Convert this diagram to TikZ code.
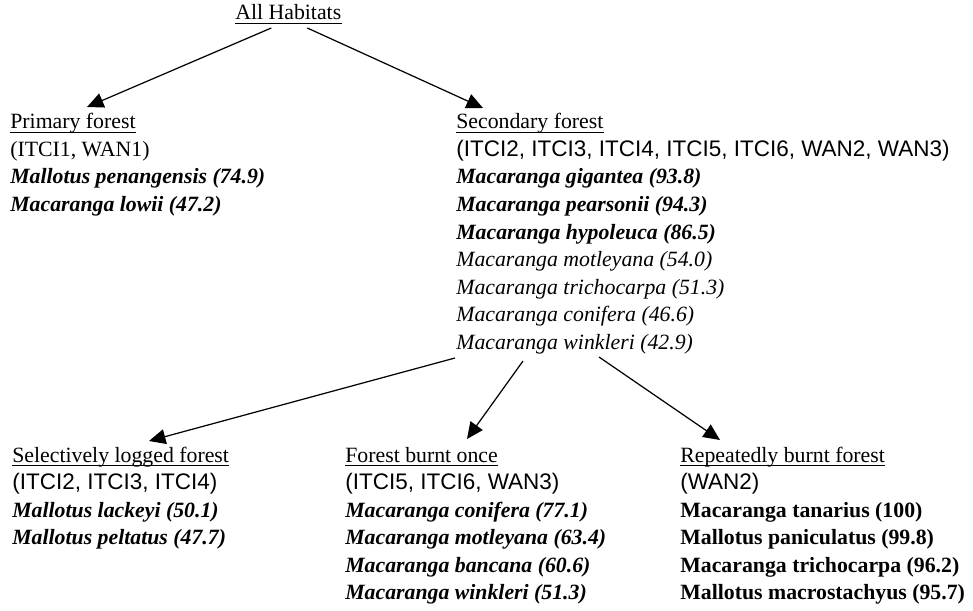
\documentclass[tikz,border=0pt]{standalone}
\usepackage{fontspec}
\setmainfont{Liberation Serif}
\setsansfont{Liberation Sans}
\usetikzlibrary{arrows.meta,calc}
\newcommand{\habsize}{\fontsize{12.4}{15}\selectfont}
\tikzstyle{txt} = [anchor=base west, inner sep=0pt, font=\habsize]
\tikzstyle{site} = [txt, font=\sffamily\fontsize{12.8}{15}\selectfont]
\tikzstyle{spb} = [txt, font=\habsize\bfseries\itshape]
\tikzstyle{spi} = [txt, font=\habsize\itshape]
\tikzstyle{spu} = [txt, font=\habsize\bfseries]
\tikzstyle{uline} = [line width=0.5pt]
\tikzstyle{branch} = [line width=0.7pt, -{Triangle[length=0.33cm,width=0.3cm]}]

\begin{document}
\begin{tikzpicture}[x=0.02cm,y=-0.02cm]
\useasboundingbox (0,0) rectangle (973,611);
% top
\draw (235,20) node (all) [txt] {All Habitats};
% primary forest
\draw (10,129) node (prim) [txt] {Primary forest};
\draw (10,156.5) node (prim1) [txt] {(ITCI1, WAN1)};
\draw (10,184) node (prim2) [spb] {Mallotus penangensis (74.9)};
\draw (10,211.5) node (prim3) [spb] {Macaranga lowii (47.2)};
% secondary forest
\draw (456,129) node (sec) [txt] {Secondary forest};
\draw (456,156.5) node (sec1) [site] {(ITCI2, ITCI3, ITCI4, ITCI5, ITCI6, WAN2, WAN3)};
\draw (456,184) node (sec2) [spb] {Macaranga gigantea (93.8)};
\draw (456,211.5) node (sec3) [spb] {Macaranga pearsonii (94.3)};
\draw (456,239) node (sec4) [spb] {Macaranga hypoleuca (86.5)};
\draw (456,266.5) node (sec5) [spi] {Macaranga motleyana (54.0)};
\draw (456,294) node (sec6) [spi] {Macaranga trichocarpa (51.3)};
\draw (456,321.5) node (sec7) [spi] {Macaranga conifera (46.6)};
\draw (456,349) node (secw) [spi] {Macaranga winkleri (42.9)};
% selectively logged
\draw (12,462) node (slf) [txt] {Selectively logged forest};
\draw (12,489.5) node (slf1) [site] {(ITCI2, ITCI3, ITCI4)};
\draw (12,517) node (slf2) [spb] {Mallotus lackeyi (50.1)};
\draw (12,544.5) node (slf3) [spb] {Mallotus peltatus (47.7)};
% burnt once
\draw (345,462) node (fbo) [txt] {Forest burnt once};
\draw (345,489.5) node (fbo1) [site] {(ITCI5, ITCI6, WAN3)};
\draw (345,517) node (fbo2) [spb] {Macaranga conifera (77.1)};
\draw (345,544.5) node (fbo3) [spb] {Macaranga motleyana (63.4)};
\draw (345,572) node (fbo4) [spb] {Macaranga bancana (60.6)};
\draw (345,599.5) node (fbo5) [spb] {Macaranga winkleri (51.3)};
% repeatedly burnt
\draw (680,462) node (rbf) [txt] {Repeatedly burnt forest};
\draw (680,489.5) node (rbf1) [site] {(WAN2)};
\draw (680,517) node (rbf2) [spu] {Macaranga tanarius (100)};
\draw (680,544.5) node (rbf3) [spu] {Mallotus paniculatus (99.8)};
\draw (680,572) node (rbf4) [spu] {Macaranga trichocarpa (96.2)};
\draw (680,599.5) node (rbf5) [spu] {Mallotus macrostachyus (95.7)};
% underlines
\draw[uline] ($(all.base west)+(0,3)$) -- ($(all.base east)+(0,3)$);
\draw[uline] ($(prim.base west)+(0,3)$) -- ($(prim.base east)+(0,3)$);
\draw[uline] ($(sec.base west)+(0,3)$) -- ($(sec.base east)+(0,3)$);
\draw[uline] ($(slf.base west)+(0,3)$) -- ($(slf.base east)+(0,3)$);
\draw[uline] ($(fbo.base west)+(0,3)$) -- ($(fbo.base east)+(0,3)$);
\draw[uline] ($(rbf.base west)+(0,3)$) -- ($(rbf.base east)+(0,3)$);
% arrows
\draw[branch] ($(all.base)+(-17,8)$) -- ($(prim.base west)+(77,-22)$);
\draw[branch] ($(all.base)+(19,8)$) -- ($(sec.base west)+(27,-21)$);
\draw[branch] ($(secw.base west)+(-1,9)$) -- ($(slf.base west)+(137,-21)$);
\draw[branch] ($(secw.base west)+(67,12)$) -- ($(fbo.base west)+(122,-23)$);
\draw[branch] ($(secw.base west)+(143,8)$) -- ($(rbf.base west)+(40,-22)$);
\end{tikzpicture}
\end{document}
